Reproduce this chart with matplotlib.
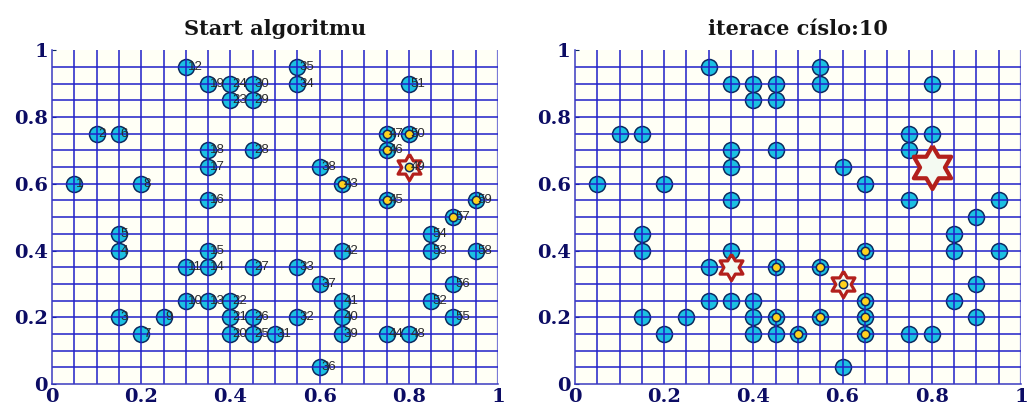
import numpy as np
import matplotlib
matplotlib.use("Agg")
import matplotlib.pyplot as plt

# souradnice mest (cislo mesta = poradi v seznamu + 1)
x_pts = [0.05, 0.10, 0.15, 0.15, 0.15, 0.15, 0.20, 0.20, 0.25, 0.30,
         0.30, 0.30, 0.35, 0.35, 0.35, 0.35, 0.35, 0.35, 0.35, 0.40,
         0.40, 0.40, 0.40, 0.40, 0.45, 0.45, 0.45, 0.45, 0.45, 0.45,
         0.50, 0.55, 0.55, 0.55, 0.55, 0.60, 0.60, 0.60, 0.65, 0.65,
         0.65, 0.65, 0.65, 0.75, 0.75, 0.75, 0.75, 0.80, 0.80, 0.80,
         0.80, 0.85, 0.85, 0.85, 0.90, 0.90, 0.90, 0.95, 0.95]
y_pts = [0.60, 0.75, 0.20, 0.40, 0.45, 0.75, 0.15, 0.60, 0.20, 0.25,
         0.35, 0.95, 0.25, 0.35, 0.40, 0.55, 0.65, 0.70, 0.90, 0.15,
         0.20, 0.25, 0.85, 0.90, 0.15, 0.20, 0.35, 0.70, 0.85, 0.90,
         0.15, 0.20, 0.35, 0.90, 0.95, 0.05, 0.30, 0.65, 0.15, 0.20,
         0.25, 0.40, 0.60, 0.15, 0.55, 0.70, 0.75, 0.15, 0.65, 0.75,
         0.90, 0.25, 0.40, 0.45, 0.20, 0.30, 0.50, 0.40, 0.55]

# oznacena mesta a hvezdy (centra) pro oba stavy
start_marked = [43, 45, 46, 47, 49, 50, 57, 59]
start_small_stars = [49]
start_big_stars = []

iter_marked = [26, 27, 31, 32, 33, 37, 39, 40, 41, 42]
iter_small_stars = [14, 37]
iter_big_stars = [49]

titles = ["Start algoritmu", "iterace císlo:10"]
tick_vals = [0, 0.2, 0.4, 0.6, 0.8, 1]
tick_labels = ["0", "0.2", "0.4", "0.6", "0.8", "1"]

CYAN = "#1cc0e2"
NAVY = "#0b2a5e"
GRIDC = "#1f1fc8"
STAR_RED = "#b3201c"


def hexagram(inner=1 / np.sqrt(3)):
    ang = np.pi / 2 + np.arange(12) * np.pi / 6
    r = np.where(np.arange(12) % 2 == 0, 1.0, inner)
    verts = np.column_stack([r * np.cos(ang), r * np.sin(ang)])
    return np.vstack([verts, verts[:1]])


HEX = hexagram()


def draw_panel(ax, title, marked, small_stars, big_stars, numbers):
    x = np.array(x_pts)
    y = np.array(y_pts)
    ax.set_facecolor("#fffff6")
    ax.plot(x, y, "o", ms=11.5, mfc=CYAN, mec=NAVY, mew=1.1, zorder=2,
            clip_on=False)

    # mrizka po 0.05 (kresli se pres kolecka)
    for k in range(1, 21):
        ax.axvline(k * 0.05, color=GRIDC if k < 20 else "#7a7ad6",
                   lw=1.1 if k < 20 else 1.6, zorder=2.5)
    for k in range(1, 20):
        ax.axhline(k * 0.05, color=GRIDC, lw=1.1, zorder=2.5)

    for ids, ms, lw in ((small_stars, 19, 2.3), (big_stars, 31, 3.0)):
        if ids:
            i = np.array(ids) - 1
            ax.plot(x[i], y[i], ls="none", marker=HEX, ms=ms, mfc="#f4faf2",
                    mec=STAR_RED, mew=lw, zorder=3)

    i = np.array(marked) - 1
    ax.plot(x[i], y[i], "o", ms=6, mfc="#ffd21e", mec=NAVY, mew=1.1,
            zorder=4)

    if numbers:
        for k, (xx, yy) in enumerate(zip(x, y)):
            ax.annotate(str(k + 1), (xx, yy), xytext=(1.2, 0),
                        textcoords="offset points", ha="left", va="center",
                        fontsize=9.5, family="Liberation Sans",
                        color="#2a2a2a", zorder=5)

    ax.set_xlim(0, 1)
    ax.set_ylim(0, 1)
    ax.set_xticks(tick_vals)
    ax.set_xticklabels(tick_labels)
    ax.set_yticks(tick_vals)
    ax.set_yticklabels(tick_labels)
    ax.tick_params(length=0, pad=3)
    ax.tick_params(axis="y", length=3, direction="in", color=NAVY)
    for lab in ax.get_xticklabels() + ax.get_yticklabels():
        lab.set_family("DejaVu Serif")
        lab.set_fontweight("bold")
        lab.set_fontsize(14)
        lab.set_color("#0c0c64")
    for s in ("top", "right"):
        ax.spines[s].set_visible(False)
    for s in ("left", "bottom"):
        ax.spines[s].set_color("#3a3ac0")
        ax.spines[s].set_linewidth(1.1)
    ax.set_title(title, family="DejaVu Serif", fontweight="bold",
                 fontsize=15, color="#151515", pad=11)


fig = plt.figure(figsize=(10.28, 4.18), dpi=100, facecolor="white")
ax1 = fig.add_axes([0.0506, 0.081, 0.4339, 0.799])
ax2 = fig.add_axes([0.5593, 0.081, 0.4339, 0.799])

draw_panel(ax1, titles[0], start_marked, start_small_stars, start_big_stars,
           True)
draw_panel(ax2, titles[1], iter_marked, iter_small_stars, iter_big_stars,
           False)

fig.savefig("out.png", dpi=100)
